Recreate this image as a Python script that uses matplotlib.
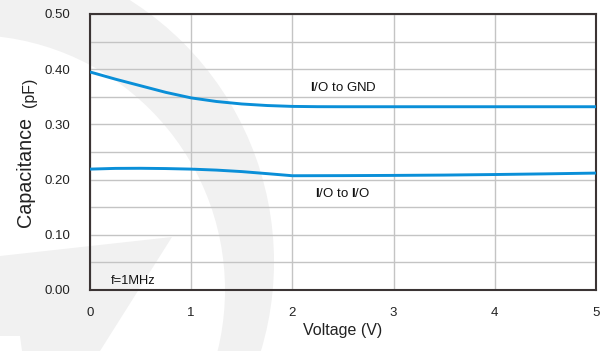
import matplotlib
matplotlib.use("Agg")
import matplotlib.pyplot as plt
from matplotlib.patches import Circle, Polygon
from matplotlib.ticker import MultipleLocator, FormatStrFormatter
import matplotlib.transforms as mtransforms

plt.rcParams["font.family"] = ["Liberation Sans", "DejaVu Sans"]
plt.rcParams["mathtext.fontset"] = "custom"
plt.rcParams["mathtext.rm"] = "Liberation Sans"
plt.rcParams["mathtext.bf"] = "Liberation Sans:bold"

# Capacitance vs. bias voltage, f = 1 MHz
v_gnd = [0, 0.25, 0.5, 0.75, 1.0, 1.25, 1.5, 1.75, 2.0, 2.25, 2.5, 3.0, 4.0, 5.0]
c_io_gnd = [0.395, 0.382, 0.370, 0.358, 0.348, 0.3415, 0.337, 0.3342, 0.3326,
            0.3321, 0.332, 0.332, 0.332, 0.332]

v_io = [0, 0.25, 0.5, 0.75, 1.0, 1.25, 1.5, 1.75, 2.0, 2.5, 3.0, 3.5, 4.0, 4.5, 5.0]
c_io_io = [0.219, 0.2203, 0.2205, 0.2200, 0.2190, 0.2172, 0.2145, 0.2108, 0.2070,
           0.2072, 0.2076, 0.2082, 0.2092, 0.2104, 0.2118]

x_ticks = [0, 1, 2, 3, 4, 5]
y_ticks = [0.0, 0.1, 0.2, 0.3, 0.4, 0.5]

W, H = 612, 351
fig = plt.figure(figsize=(W / 100, H / 100), dpi=100)
fig.patch.set_facecolor("white")

# faint background logo, laid out in pixel units (origin at top-left)
px = mtransforms.Affine2D().scale(1 / W, -1 / H).translate(0, 1) + fig.transFigure
wm = "#f1f1f1"
outer = Circle((-36, 262), 310, transform=px, facecolor=wm, edgecolor="none", zorder=-3)
inner = Circle((-30, 290), 255, transform=px, facecolor="white", edgecolor="none", zorder=-2.5)
slab = Polygon([(0, 256), (172, 237), (100, 351), (22, 351), (20, 336), (0, 336)],
               closed=True, transform=px, facecolor=wm, edgecolor="none", zorder=-2)
fig.patches.extend([outer, inner, slab])

ax = fig.add_axes([90 / W, (H - 290) / H, (596 - 90) / W, (290 - 14) / H])
ax.set_facecolor("none")

line_color = "#0a8fd8"
ax.plot(v_gnd, c_io_gnd, color=line_color, lw=2.1, solid_capstyle="butt", zorder=3)
ax.plot(v_io, c_io_io, color=line_color, lw=2.1, solid_capstyle="butt", zorder=3)

ax.set_xlim(0, 5)
ax.set_ylim(0, 0.5)
ax.set_xticks(x_ticks)
ax.set_yticks(y_ticks)
ax.yaxis.set_minor_locator(MultipleLocator(0.05))
ax.yaxis.set_major_formatter(FormatStrFormatter("%.2f"))
ax.xaxis.set_major_formatter(FormatStrFormatter("%d"))

ax.grid(True, which="both", color="#c4c4c4", lw=1.0)
ax.set_axisbelow(True)
ax.tick_params(axis="both", which="both", length=0, labelsize=9.5, colors="#222222")
ax.tick_params(axis="y", pad=14)
ax.tick_params(axis="x", pad=12)

for s in ax.spines.values():
    s.set_color("#3b3434")
    s.set_linewidth(1.5)

ax.set_xlabel("Voltage (V)", fontsize=11.5, color="#222222")
ax.xaxis.set_label_coords(0.5, -0.118)

# y-axis title with a smaller unit part
fig.text(31 / W, 1 - 172 / H, "Capacitance", rotation=90, rotation_mode="anchor",
         ha="center", va="baseline", fontsize=14.2, color="#222222")
fig.text(34 / W, 1 - 92 / H, "(pF)", rotation=90, rotation_mode="anchor",
         ha="center", va="baseline", fontsize=11.5, color="#222222")

ax.text(2.5, 0.367, r"$\mathbf{I}$/O to GND", ha="center", va="center",
        fontsize=9.5, color="#111111")
ax.text(2.5, 0.175, r"$\mathbf{I}$/O to $\mathbf{I}$/O", ha="center", va="center",
        fontsize=9.5, color="#111111")
ax.text(0.43, 0.017, "f=1MHz", ha="center", va="center", fontsize=9.3,
        color="#111111")

fig.savefig("out.png", dpi=100)
